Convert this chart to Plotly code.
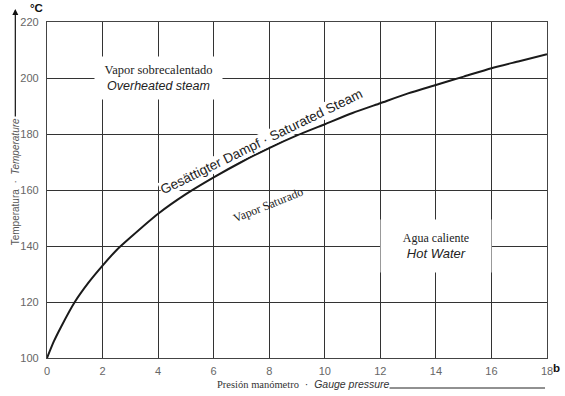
import plotly.graph_objects as go

# Data
pressure_bar = [0, 0.25, 0.5, 1, 1.5, 2, 2.5, 3, 4, 5, 6, 7, 8, 9, 10, 11, 12, 13, 14, 15, 16, 17, 18]
temperature_c = [100, 106, 111, 120, 127, 133, 138.5, 143, 151.5, 158.5, 164.5, 170, 175, 179.5,
                 183.5, 187.5, 191, 194.5, 197.5, 200.5, 203.5, 206, 208.5]
x_ticks = [0, 2, 4, 6, 8, 10, 12, 14, 16, 18]
y_ticks = [100, 120, 140, 160, 180, 200, 220]

SERIF = "Liberation Serif"
SANS = "Liberation Sans"

fig = go.Figure()
fig.add_trace(go.Scatter(
    x=pressure_bar, y=temperature_c, mode="lines",
    line=dict(color="#1a1a1a", width=2, shape="spline", smoothing=0.6),
    hoverinfo="skip", showlegend=False))

L, R, T, B = 47, 13, 22, 38
W, H = 565, 396
pw, ph = W - L - R, H - T - B


def px(xpix):
    return (xpix - L) / pw


def py(ypix):
    return (H - B - ypix) / ph


annotations = [
    # region labels
    dict(x=4, y=200, xref="x", yref="y", showarrow=False,
         text=f"<span style='font-family:{SERIF}'>Vapor sobrecalentado</span><br>"
              f"<i>Overheated steam</i>",
         font=dict(family=SANS, size=12.5, color="#222"),
         bgcolor="white", borderpad=1, width=125, height=40),
    dict(x=14, y=140, xref="x", yref="y", showarrow=False,
         text=f"<span style='font-family:{SERIF};font-size:12px'>Agua caliente</span><br>"
              f"<i>Hot Water</i>",
         font=dict(family=SANS, size=13, color="#222"),
         bgcolor="white", borderpad=1, width=108, height=50),
    dict(x=7.73, y=177.3, xref="x", yref="y", showarrow=False, textangle=-26,
         text="Gesättigter Dampf · Saturated Steam",
         font=dict(family=SANS, size=13.5, color="#222"),
         bgcolor="white", borderpad=0),
    dict(x=7.95, y=154.6, xref="x", yref="y", showarrow=False, textangle=-22,
         text="Vapor Saturado",
         font=dict(family=SERIF, size=12, color="#222")),
    # axis titles / units
    dict(x=px(15), y=py(182), xref="paper", yref="paper", showarrow=False, textangle=-90,
         xanchor="center", yanchor="middle",
         text="Temperatura  ·  <i>Temperature</i>",
         font=dict(family=SANS, size=10, color="#555")),
    dict(x=px(15), y=py(9), xref="paper", yref="paper", showarrow=True, text="",
         ax=0, ay=109, arrowhead=2, arrowsize=1, arrowwidth=1.2, arrowcolor="#111"),
    dict(x=px(36), y=py(8), xref="paper", yref="paper", showarrow=False,
         xanchor="center", yanchor="middle",
         text="<b>°C</b>", font=dict(family=SANS, size=11.5, color="#111")),
    dict(x=px(217), y=py(384), xref="paper", yref="paper", showarrow=False,
         xanchor="left", yanchor="middle",
         text=f"<span style='font-family:{SERIF}'>Presión manómetro</span>  ·  <i>Gauge pressure</i>",
         font=dict(family=SANS, size=10.5, color="#333")),
    dict(x=px(562), y=py(368), xref="paper", yref="paper", showarrow=False,
         xanchor="center", yanchor="middle",
         text="<b>b</b>", font=dict(family=SANS, size=11.5, color="#111")),
]

fig.add_shape(type="line", xref="paper", yref="paper",
              x0=px(393), x1=px(550), y0=py(388), y1=py(388),
              line=dict(color="#222", width=1))

fig.update_layout(
    width=W, height=H,
    margin=dict(l=L, r=R, t=T, b=B),
    paper_bgcolor="white", plot_bgcolor="white",
    annotations=annotations,
    xaxis=dict(range=[0, 18], tickvals=x_ticks, ticktext=[str(v) for v in x_ticks],
               showgrid=True, gridcolor="#333", gridwidth=1, zeroline=False,
               showline=True, mirror=True, linecolor="#444", linewidth=1.2,
               ticks="", ticklabelstandoff=3,
               tickfont=dict(family=SANS, size=11, color="#666"), fixedrange=True),
    yaxis=dict(range=[100, 220], tickvals=y_ticks, ticktext=[str(v) for v in y_ticks],
               showgrid=True, gridcolor="#333", gridwidth=1, zeroline=False,
               showline=True, mirror=True, linecolor="#444", linewidth=1.2,
               ticks="", ticklabelstandoff=5,
               tickfont=dict(family=SANS, size=11, color="#666"), fixedrange=True),
)

fig.write_html("out.html", config={"displayModeBar": False},
               post_script="document.body.style.margin='0';document.body.style.overflow='hidden';")
